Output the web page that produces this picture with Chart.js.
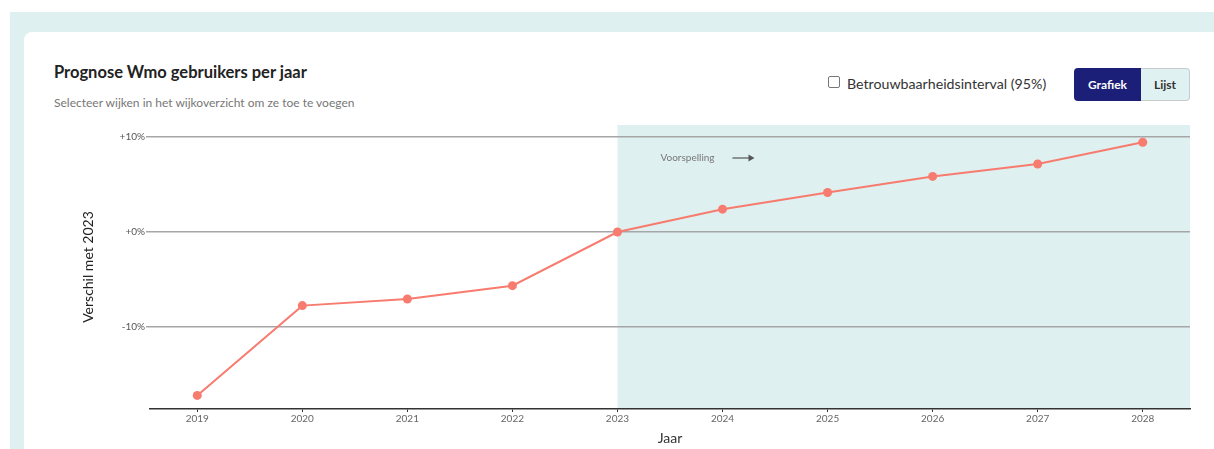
<!DOCTYPE html>
<html lang="nl">
<head>
<meta charset="utf-8">
<title>Prognose Wmo gebruikers per jaar</title>
<script src="https://cdn.jsdelivr.net/npm/chart.js@4.4.1/dist/chart.umd.min.js"></script>
<style>
  html, body { margin: 0; padding: 0; background: #fff; width: 1214px; height: 449px; overflow: hidden; font-family: Lato, "Open Sans", sans-serif; }
  .bg { position: absolute; left: 10px; top: 12px; right: 0; bottom: 0; background: #dff0f0; }
  .card { position: absolute; left: 24px; top: 32px; right: 0; bottom: 0; background: #fff; border-radius: 8px 0 0 0; }
  .title { position: absolute; left: 54px; top: 62px; font-size: 16.5px; font-weight: 700; color: #222; line-height: 20px; white-space: nowrap; }
  .subtitle { position: absolute; left: 54px; top: 96px; font-size: 12px; color: #777; line-height: 14px; white-space: nowrap; }
  .check { position: absolute; left: 828px; top: 76px; width: 10px; height: 10px; border: 1px solid #777; border-radius: 2px; background: #fff; }
  .check-label { position: absolute; left: 847px; top: 75px; font-size: 14.2px; color: #333; line-height: 18px; white-space: nowrap; }
  .btn { position: absolute; top: 68px; height: 33px; line-height: 33px; font-size: 12px; font-weight: 700; text-align: center; box-sizing: border-box; }
  .btn-on { left: 1074px; width: 67px; background: #1b1f78; color: #fff; border-radius: 4px 0 0 4px; }
  .btn-off { left: 1141px; width: 49px; background: #e0f1f1; color: #333; border: 1px solid #c8cccc; border-left: none; border-radius: 0 4px 4px 0; line-height: 31px; }
  .chart-box { position: absolute; left: 60px; top: 118px; width: 1140px; height: 331px; }
</style>
</head>
<body>
<div class="bg"></div>
<div class="card"></div>
<div class="title">Prognose Wmo gebruikers per jaar</div>
<div class="subtitle">Selecteer wijken in het wijkoverzicht om ze toe te voegen</div>
<div class="check"></div>
<div class="check-label">Betrouwbaarheidsinterval (95%)</div>
<div class="btn btn-on">Grafiek</div>
<div class="btn btn-off">Lijst</div>
<div class="chart-box"><canvas id="wmo-chart"></canvas></div>

<script>
  // jaren en verschil t.o.v. 2023 (in %)
  var years = [2019, 2020, 2021, 2022, 2023, 2024, 2025, 2026, 2027, 2028];
  var verschil = [-17.2, -7.75, -7.05, -5.65, 0, 2.4, 4.15, 5.85, 7.15, 9.45];
  var yTicks = [-10, 0, 10];
  var forecastStart = 2023;
  var forecastLabel = 'Voorspelling';

  var lineColor = '#f77b6e';
  var shadeColor = '#dff0f0';

  // achtergrond voor de voorspelde jaren
  var forecastPlugin = {
    id: 'forecast',
    beforeDraw: function (chart) {
      var area = chart.chartArea;
      var x0 = chart.scales.x.getPixelForValue(forecastStart);
      var ctx = chart.ctx;
      ctx.save();
      ctx.fillStyle = shadeColor;
      ctx.fillRect(x0, area.top, area.right - x0, area.bottom - area.top);
      ctx.restore();
    },
    afterDraw: function (chart) {
      var area = chart.chartArea;
      var x0 = chart.scales.x.getPixelForValue(forecastStart);
      var ctx = chart.ctx;
      var y = area.top + 33;
      ctx.save();
      ctx.font = '10px Lato, "Open Sans", sans-serif';
      ctx.fillStyle = '#777';
      ctx.textBaseline = 'middle';
      ctx.fillText(forecastLabel, x0 + 43, y);
      ctx.strokeStyle = '#555';
      ctx.fillStyle = '#555';
      ctx.lineWidth = 1.2;
      ctx.beginPath();
      ctx.moveTo(x0 + 115, y);
      ctx.lineTo(x0 + 133, y);
      ctx.stroke();
      ctx.beginPath();
      ctx.moveTo(x0 + 137, y);
      ctx.lineTo(x0 + 131, y - 3.5);
      ctx.lineTo(x0 + 131, y + 3.5);
      ctx.closePath();
      ctx.fill();
      ctx.restore();
    }
  };

  var points = years.map(function (yr, i) { return { x: yr, y: verschil[i] }; });

  new Chart(document.getElementById('wmo-chart'), {
    type: 'line',
    data: {
      datasets: [{
        label: 'Verschil met 2023',
        data: points,
        borderColor: lineColor,
        backgroundColor: lineColor,
        borderWidth: 2,
        pointRadius: 4.5,
        pointBackgroundColor: lineColor,
        pointBorderWidth: 0,
        tension: 0,
      }],
    },
    options: {
      responsive: true,
      maintainAspectRatio: false,
      animation: false,
      layout: { padding: { top: 7, right: 10, left: 0, bottom: 0 } },
      plugins: {
        legend: { display: false },
        tooltip: { enabled: false },
      },
      scales: {
        x: {
          type: 'linear',
          min: years[0] - 0.45,
          max: years[years.length - 1] + 0.45,
          afterBuildTicks: function (scale) {
            scale.ticks = years.map(function (v) { return { value: v }; });
          },
          afterFit: function (scale) { scale.height = 40; },
          grid: { drawOnChartArea: false, drawTicks: true, tickLength: 3, color: '#333' },
          border: { display: true, color: '#333', width: 1.5 },
          ticks: {
            padding: 1,
            color: '#666',
            font: { family: 'Lato, "Open Sans", sans-serif', size: 10 },
            callback: function (v) { return String(v); },
          },
          title: {
            display: true,
            text: 'Jaar',
            color: '#333',
            font: { family: 'Lato, "Open Sans", sans-serif', size: 14 },
            padding: { top: 0, bottom: 2 },
          },
        },
        y: {
          min: -18.63,
          max: 11.26,
          afterBuildTicks: function (scale) {
            scale.ticks = yTicks.map(function (v) { return { value: v }; });
          },
          afterFit: function (scale) { scale.width = 90; },
          border: { display: false },
          grid: { color: '#a6a6a6', lineWidth: 1.5, drawTicks: true, tickLength: 4 },
          ticks: {
            padding: 1,
            color: '#555',
            font: { family: 'Lato, "Open Sans", sans-serif', size: 10 },
            callback: function (v) { return (v >= 0 ? '+' : '') + v + '%'; },
          },
          title: {
            display: true,
            text: 'Verschil met 2023',
            color: '#222',
            font: { family: 'Lato, "Open Sans", sans-serif', size: 14 },
            padding: { top: 20, bottom: 0 },
          },
        },
      },
    },
    plugins: [forecastPlugin],
  });
</script>
</body>
</html>
